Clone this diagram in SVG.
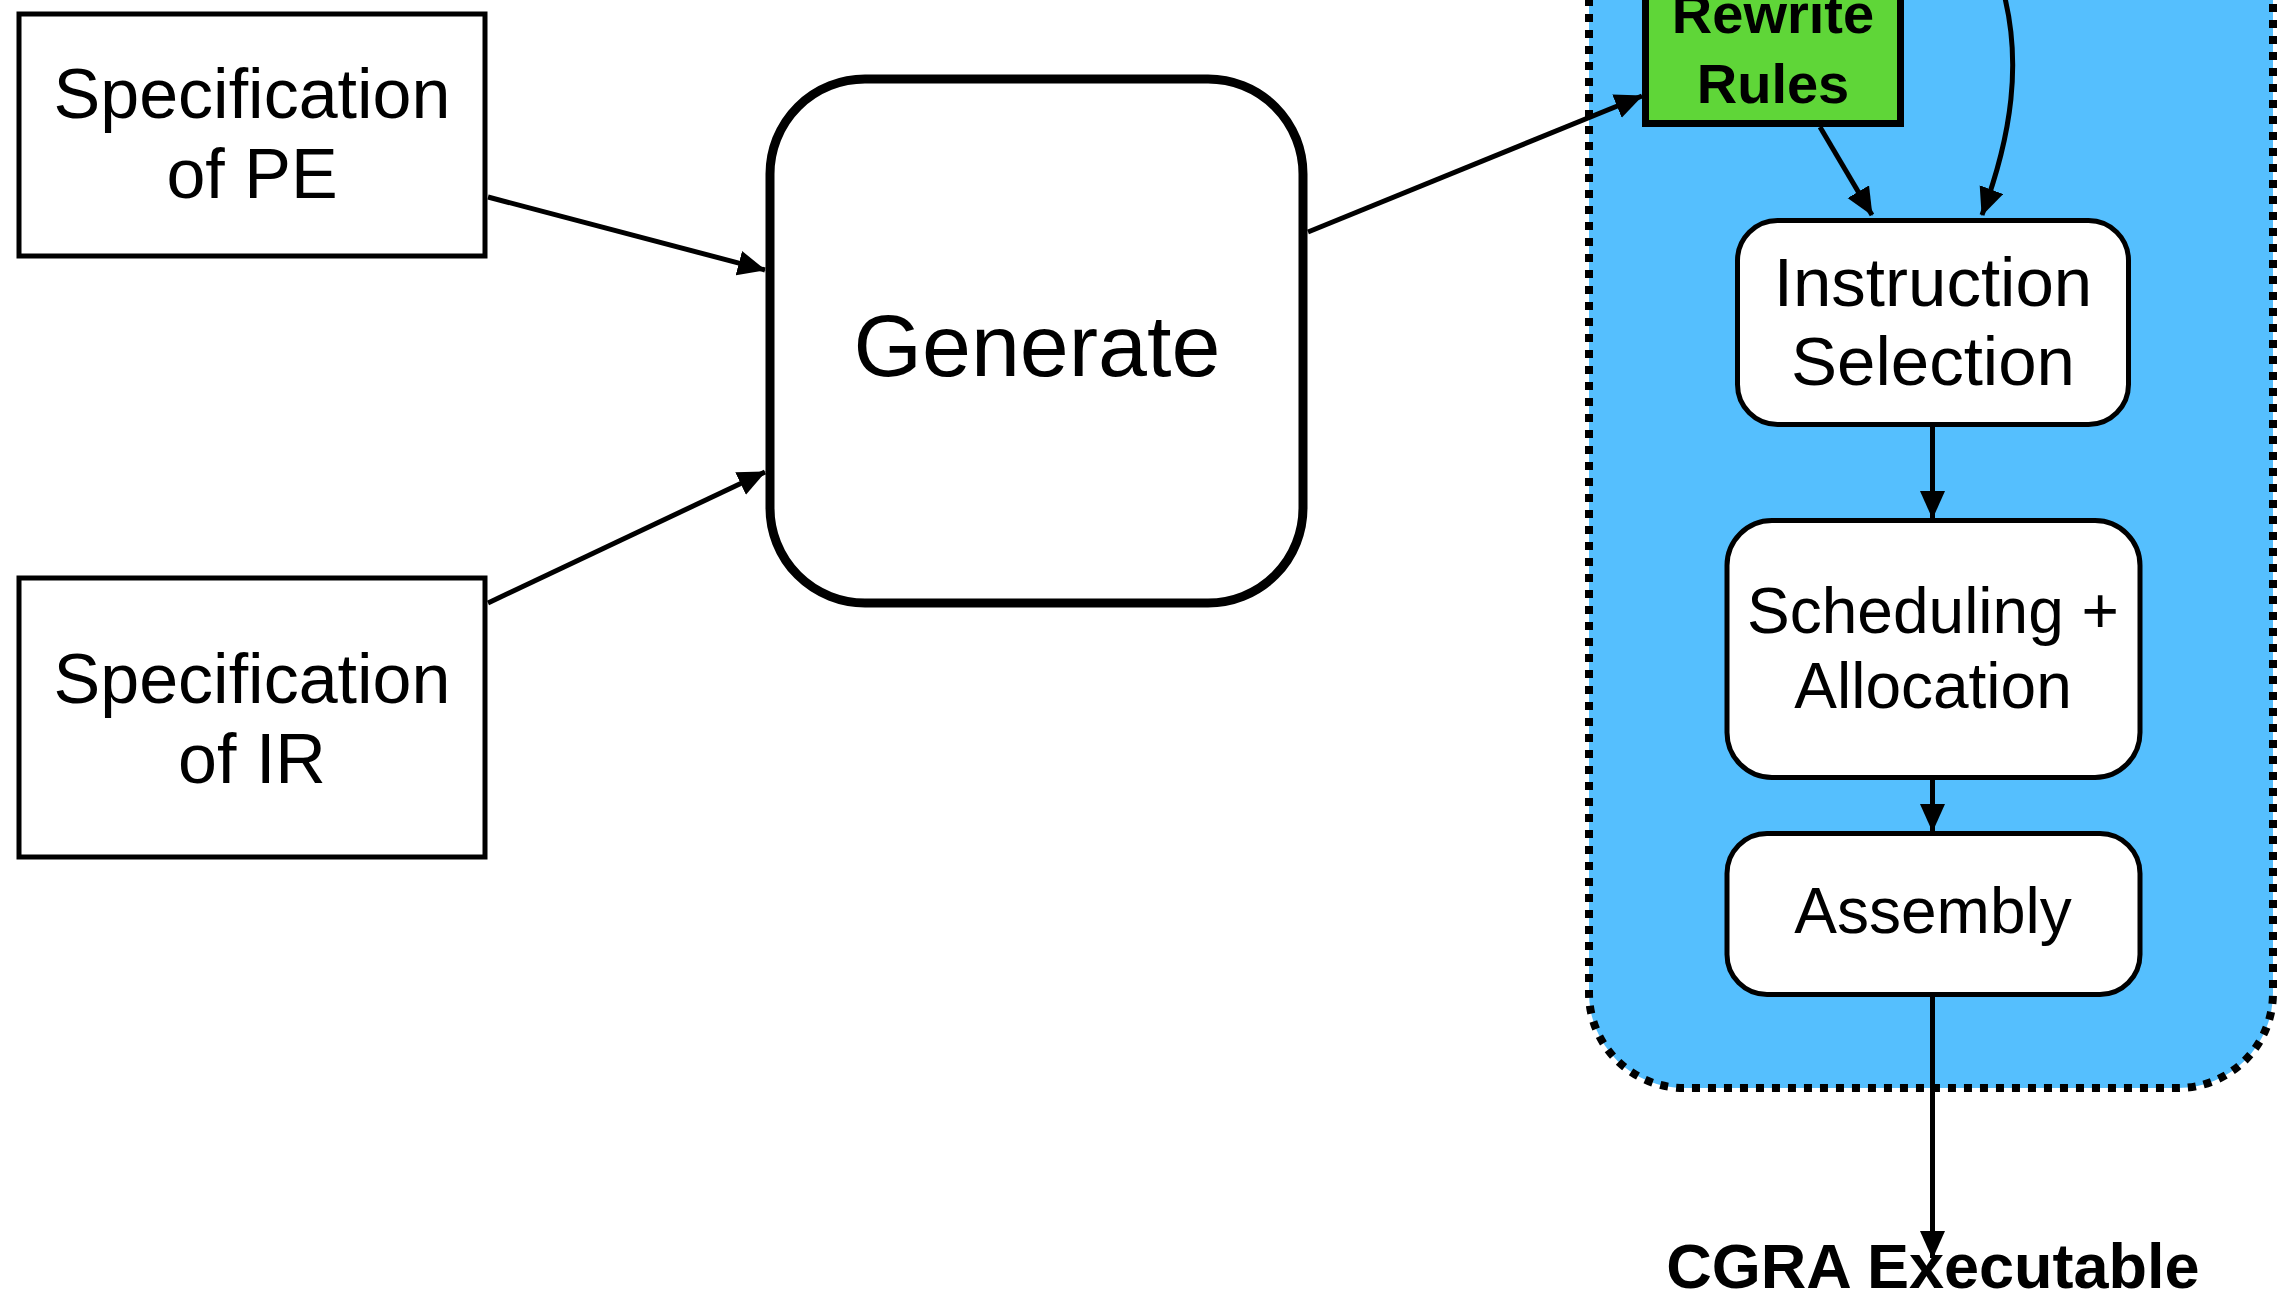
<svg xmlns="http://www.w3.org/2000/svg" width="2277" height="1292" viewBox="0 0 2277 1292">
  <style>
    .lbl { font-family: "Liberation Sans", Arial, Helvetica, sans-serif; fill: #000; text-anchor: middle; }
    .bold { font-weight: bold; }
    .box { fill: #fff; stroke: #000; stroke-width: 5; }
    .edge { fill: none; stroke: #000; stroke-width: 5; marker-end: url(#arrow); }
  </style>
  <defs>
    <marker id="arrow" markerUnits="userSpaceOnUse" markerWidth="29" markerHeight="26" refX="27" refY="12.5" orient="auto">
      <path d="M0,0 L28,12.5 L0,25 Z" fill="#000"/>
    </marker>
  </defs>

  <rect width="2277" height="1292" fill="#fff"/>

  <!-- compiler pipeline container -->
  <g id="pipeline">
    <rect x="1589" y="-200" width="684" height="1288" rx="95" ry="95" fill="#55BFFE" stroke="#000" stroke-width="8" stroke-dasharray="8 8"/>
  </g>

  <g id="spec-pe">
    <rect class="box" x="19" y="14" width="466" height="242"/>
    <text class="lbl" x="252" y="118" font-size="70">Specification</text>
    <text class="lbl" x="252" y="198" font-size="70">of PE</text>
  </g>

  <g id="spec-ir">
    <rect class="box" x="19" y="578" width="466" height="279"/>
    <text class="lbl" x="252" y="703" font-size="70">Specification</text>
    <text class="lbl" x="252" y="783" font-size="70">of IR</text>
  </g>

  <g id="generate">
    <rect x="770" y="79" width="533" height="524" rx="95" ry="95" fill="#fff" stroke="#000" stroke-width="9"/>
    <text class="lbl" x="1037" y="376" font-size="88">Generate</text>
  </g>

  <g id="rewrite-rules">
    <rect x="1645.5" y="-20" width="255" height="143.5" fill="#5FD638" stroke="#000" stroke-width="7"/>
    <text class="lbl bold" x="1773" y="33" font-size="56">Rewrite</text>
    <text class="lbl bold" x="1773" y="103" font-size="56">Rules</text>
  </g>

  <g id="instruction-selection">
    <rect class="box" x="1737.5" y="220.5" width="391" height="204" rx="40" ry="40"/>
    <text class="lbl" x="1933" y="306" font-size="69">Instruction</text>
    <text class="lbl" x="1933" y="385" font-size="69">Selection</text>
  </g>

  <g id="scheduling-allocation">
    <rect class="box" x="1727" y="520.5" width="413" height="257" rx="45" ry="45"/>
    <text class="lbl" x="1933" y="633" font-size="64">Scheduling +</text>
    <text class="lbl" x="1933" y="708" font-size="64">Allocation</text>
  </g>

  <g id="assembly">
    <rect class="box" x="1727" y="833.5" width="413" height="161" rx="40" ry="40"/>
    <text class="lbl" x="1933" y="933" font-size="64">Assembly</text>
  </g>

  <g id="cgra-executable">
    <text class="lbl bold" x="1933" y="1288" font-size="63">CGRA Executable</text>
  </g>

  <g id="connectors">
    <line class="edge" x1="488" y1="197" x2="765" y2="270"/>
    <line class="edge" x1="488" y1="603" x2="765" y2="472"/>
    <line class="edge" x1="1308" y1="232" x2="1642" y2="96"/>
    <line class="edge" x1="1820" y1="127" x2="1872" y2="215"/>
    <path class="edge" d="M2000,-20 C2025,60 2010,140 1982,215"/>
    <line class="edge" x1="1932.5" y1="427" x2="1932.5" y2="518"/>
    <line class="edge" x1="1932.5" y1="780" x2="1932.5" y2="831"/>
    <line class="edge" x1="1932.5" y1="997" x2="1932.5" y2="1258"/>
  </g>
</svg>
